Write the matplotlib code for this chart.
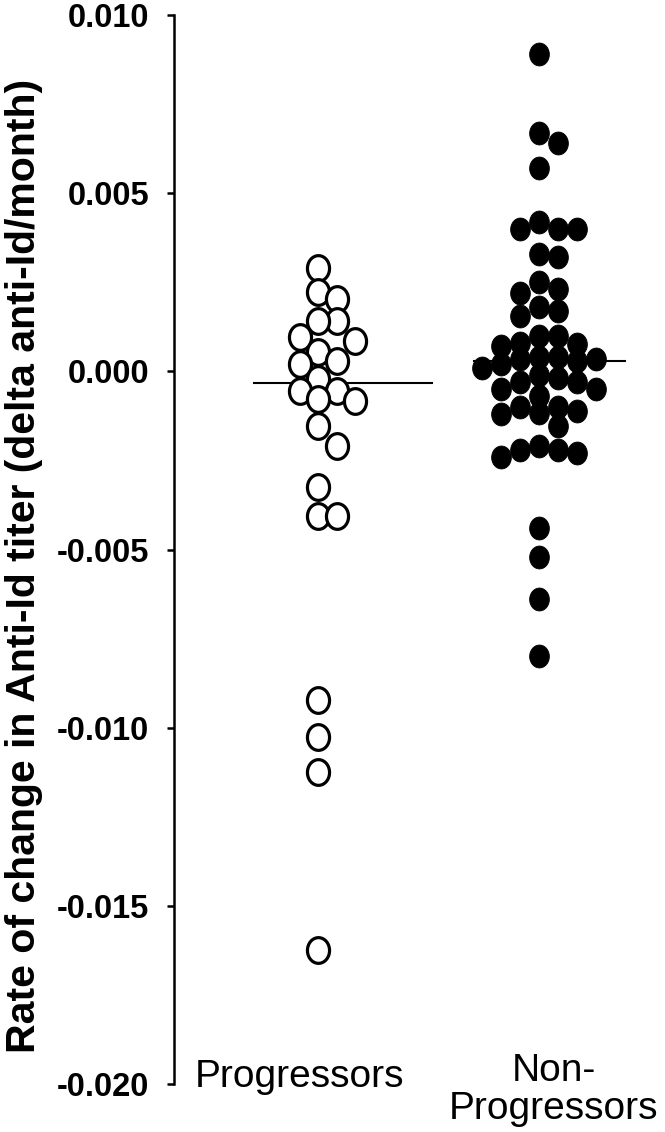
import numpy as np
import matplotlib
matplotlib.use("Agg")
import matplotlib.pyplot as plt
from matplotlib.path import Path

plt.rcParams['font.family'] = ['Liberation Sans', 'DejaVu Sans']

# ---- data ----
categories = ["Progressors", "Non-\nProgressors"]

progressors = [0.00289, 0.00222, 0.00202, 0.00140, 0.00140, 0.00096, 0.00084,
               0.00053, 0.00028, 0.00020, -0.00022, -0.00056, -0.00056,
               -0.00079, -0.00084, -0.00154, -0.00210, -0.00326, -0.00407,
               -0.00407, -0.00921, -0.01025, -0.01124, -0.01624]

non_progressors = [0.0089, 0.0067, 0.0064, 0.0057,
                   0.0042, 0.0040, 0.0040, 0.0040,
                   0.0033, 0.0032,
                   0.0025, 0.0023, 0.0022,
                   0.0018, 0.0017, 0.00155,
                   0.0010, 0.0010, 0.0008, 0.00076, 0.0007,
                   0.0004, 0.0004, 0.00034, 0.00034, 0.0003, 0.0002, 0.0001,
                   -0.0001, -0.0002, -0.0003, -0.0003, -0.0005, -0.0005, -0.0007,
                   -0.0010, -0.0010, -0.0011, -0.00116, -0.0012,
                   -0.00154,
                   -0.0021, -0.0022, -0.0022, -0.0023, -0.0024,
                   -0.0044, -0.0052, -0.0064, -0.0080]

medians = [-0.00034, 0.0003]

yticks = [0.010, 0.005, 0.000, -0.005, -0.010, -0.015, -0.020]
ytick_labels = ["0.010", "0.005", "0.000", "-0.005", "-0.010", "-0.015", "-0.020"]

ylabel = "Rate of change in Anti-Id titer (delta anti-Id/month)"

# ---- layout ----
W, H = 665, 1132
fig = plt.figure(figsize=(W / 100, H / 100), dpi=100)
ax_left_px, ax_top_px, ax_bot_px = 174, 15, 1084
ax = fig.add_axes([ax_left_px / W, (H - ax_bot_px) / H,
                   (W - ax_left_px) / W, (ax_bot_px - ax_top_px) / H])

px_per_x = 221.0           # pixels per x data unit
center_px = 318.0          # pixel of x = 1
xmin = 1 + (ax_left_px - center_px) / px_per_x
xmax = 1 + (W - center_px) / px_per_x
ymin, ymax = -0.020, 0.010
ax.set_xlim(xmin, xmax)
ax.set_ylim(ymin, ymax)
px_per_y = (ax_bot_px - ax_top_px) / (ymax - ymin)


def swarm(values, center, col_px=19.0, min_sep_px=22.0):
    """Greedy column swarm: place sorted values at 0,+1,-1,+2,-2 columns."""
    order = np.argsort(values)[::-1]
    placed = {}
    xs = np.zeros(len(values))
    for i in order:
        v = values[i]
        k = 0
        while True:
            for c in ([0] if k == 0 else [k, -k]):
                ys = placed.get(c, [])
                if all(abs(v - y) * px_per_y >= min_sep_px for y in ys):
                    placed.setdefault(c, []).append(v)
                    xs[i] = center + c * col_px / px_per_x
                    break
            else:
                k += 1
                continue
            break
    return xs


# slightly tall elliptical marker
t = np.linspace(0, 2 * np.pi, 60)
ell = Path(np.column_stack([np.cos(t) * 0.86, np.sin(t)]), closed=True)

pv = np.array(progressors)
nv = np.array(non_progressors)
px = swarm(pv, 1.0, col_px=18.5, min_sep_px=20)
nx = swarm(nv, 2.0, col_px=19.0, min_sep_px=15)

ax.scatter(px, pv, marker=ell, s=18.5 ** 2, facecolors='white',
           edgecolors='black', linewidths=2.3, zorder=3, clip_on=False)
ax.scatter(nx, nv, marker=ell, s=16.5 ** 2, facecolors='black',
           edgecolors='black', linewidths=0.6, zorder=3, clip_on=False)

# median lines
line_spans = [(1 + (254 - center_px) / px_per_x, 1 + (432 - center_px) / px_per_x),
              (2 + (474 - 539) / px_per_x, 2 + (625 - 539) / px_per_x)]
for (x0, x1), m in zip(line_spans, medians):
    ax.plot([x0, x1], [m, m], color='black', lw=1.5, zorder=2)

# axes styling
for s in ['top', 'right', 'bottom']:
    ax.spines[s].set_visible(False)
ax.spines['left'].set_linewidth(1.8)
ax.set_yticks(yticks)
ax.set_yticklabels(ytick_labels, fontsize=23.5, fontweight='bold')
ax.tick_params(axis='y', direction='out', length=5, width=1.8, pad=13)
ax.set_xticks([])

# category labels
label_x_px = [300, 554]
label_y_px = [1077, 1090]
for lab, lxp, lyp in zip(categories, label_x_px, label_y_px):
    fig.text(lxp / W, 1 - lyp / H, lab, ha='center', va='center',
             fontsize=28, linespacing=1.05)

fig.text(24 / W, 1 - 566 / H, ylabel, rotation=90, ha='center', va='center',
         fontsize=29.5, fontweight='bold')

fig.savefig("out.png", dpi=100)
